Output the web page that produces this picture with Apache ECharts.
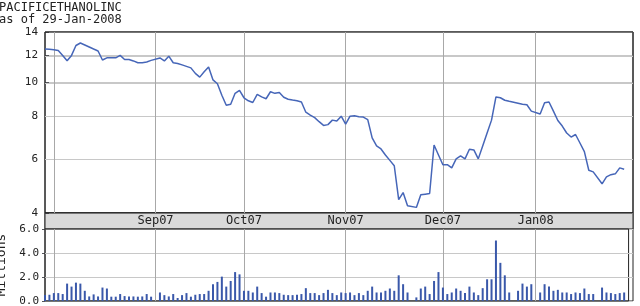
<!DOCTYPE html>
<html><head><meta charset="utf-8">
<script src="https://cdn.jsdelivr.net/npm/echarts@6/dist/echarts.min.js"></script>
<style>html,body{margin:0;padding:0;background:#fff}#c{width:640px;height:306px}</style>
</head><body><div id="c"></div>
<script>
// ---- data (weekday axis Jul 30 2007 .. Jan 31 2008; null = market holiday) ----
const titleText = 'PACIFICETHANOLINC';
const subtitleText = 'as of 29-Jan-2008';
const priceJulAug = [12.50,12.49,12.44,12.38,11.98,11.56,11.98,12.80,13.01,12.84,12.67,12.50,12.34,11.62,11.79,11.79,11.79,11.98,11.66,11.66,11.55,11.41,11.41,11.47,11.59];
const priceSep = [null,11.78,11.55,11.92,11.41,11.36,11.25,11.14,11.03,10.63,10.37,10.74,11.10,10.18,9.92,9.19,8.60,8.66,9.31,9.50];
const priceOct = [9.04,8.86,8.76,9.25,9.09,8.98,9.41,9.31,9.36,9.07,8.95,8.90,8.86,8.79,8.21,8.05,7.92,7.71,7.52,7.56,7.79,7.74,8.00];
const priceNov = [7.59,8.00,8.02,7.97,7.95,7.82,6.92,6.56,6.43,6.18,5.96,5.75,4.59,4.81,4.41,null,4.36,4.74,4.76,4.78,6.60,6.18];
const priceDec = [5.79,5.79,5.67,6.02,6.14,6.02,6.42,6.39,6.02,6.56,7.15,7.79,9.09,9.04,8.89,8.83,null,8.72,8.66,8.63,8.27];
const priceJan = [null,8.11,8.74,8.79,8.27,7.77,7.49,7.15,6.96,7.08,6.69,6.32,5.58,5.52,null,5.10,5.34,5.42,5.45,5.67,5.62];

const volJulAug = [0.50,0.52,0.66,0.66,0.58,1.45,1.20,1.53,1.45,0.85,0.38,0.55,0.38,1.12,1.04,0.36,0.36,0.58,0.41,0.38,0.38,0.36,0.38,0.58,0.36];
const volSep = [null,0.71,0.49,0.38,0.58,0.25,0.49,0.66,0.36,0.52,0.58,0.58,0.85,1.40,1.59,2.03,1.20,1.67,2.41,2.22];
const volOct = [0.85,0.85,0.71,1.20,0.66,0.36,0.71,0.71,0.66,0.52,0.49,0.49,0.52,0.58,1.07,0.66,0.66,0.49,0.66,0.93,0.66,0.49,0.71];
const volNov = [0.66,0.71,0.49,0.66,0.49,0.85,1.20,0.71,0.71,0.85,1.04,0.85,2.14,1.40,0.71,null,0.30,1.04,1.20,0.58,1.67,2.41];
const volDec = [1.12,0.58,0.71,1.04,0.85,0.66,1.20,0.71,0.49,1.07,1.81,1.81,5.04,3.18,2.14,0.71,null,0.85,1.45,1.20,1.40];
const volJan = [null,0.71,1.40,1.20,0.85,0.93,0.71,0.71,0.58,0.71,0.66,1.04,0.58,0.58,null,1.12,0.71,0.66,0.58,0.66,0.71];

const monthGridDates = ['2007-08-01','2007-09-03','2007-10-01','2007-11-01','2007-12-03','2008-01-01'];
const monthLabelDates = ['2007-09-03','2007-10-01','2007-11-01','2007-12-03','2008-01-01'];
const monthLabels = ['Sep07','Oct07','Nov07','Dec07','Jan08'];
const priceTickValues = [4.2,6,8,10,12,14];
const priceTickLabels = ['4','6','8','10','12','14'];
const priceGridValues = [6,8,10,12];
const volTickLabels = ['0.0','2.0','4.0','6.0'];
const volGridValues = [2,4];

// ---- categories: weekdays ----
const dates = [];
for (let t = Date.UTC(2007,6,30); t <= Date.UTC(2008,0,31); t += 86400000) {
  const d = new Date(t), w = d.getUTCDay();
  if (w > 0 && w < 6) dates.push(d.toISOString().slice(0,10));
}
const prices = [].concat(priceJulAug, priceSep, priceOct, priceNov, priceDec, priceJan);
const volumes = [].concat(volJulAug, volSep, volOct, volNov, volDec, volJan);

const gridIdx = monthGridDates.map(s => dates.indexOf(s));
const labelIdx = monthLabelDates.map(s => dates.indexOf(s));
const isGrid = (i) => gridIdx.indexOf(i) >= 0;
const isLabel = (i) => labelIdx.indexOf(i) >= 0;

const FONT = 'DejaVu Sans Mono';
const GRIDV = '#a8a8a8', GRIDH = '#c8c8c8', FRAME = '#222';
const PMIN = Math.log(4.2), PMAX = Math.log(14);
const logTicks = priceTickValues.map(v => Math.log(v));
const nearestTick = (v) => {
  let k = 0, best = 1e9;
  logTicks.forEach((t, i) => { if (Math.abs(t - v) < best) { best = Math.abs(t - v); k = i; } });
  return k;
};
const first = dates[0], last = dates[dates.length - 1];
const vLines = monthGridDates.map(d => ({xAxis: d, lineStyle: {color: GRIDV}}));

const gridBase = {left: 45, right: 7, show: true, borderColor: FRAME, borderWidth: 1, containLabel: false, outerBoundsMode: 'none'};

const chart = echarts.init(document.getElementById('c'));
chart.setOption({
  animation: false,
  color: ['#4666b8', '#3a58aa', '#999'],
  textStyle: {fontFamily: FONT},
  title: {text: titleText + '\n' + subtitleText, left: -1, top: 2, padding: 0,
          textStyle: {fontSize: 12, fontWeight: 'normal', color: '#222', lineHeight: 12}},
  grid: [
    Object.assign({top: 32, height: 181}, gridBase),
    Object.assign({top: 229, height: 72}, gridBase),
    Object.assign({top: 213, height: 16, backgroundColor: '#dadada'}, gridBase)
  ],
  xAxis: [
    {gridIndex: 0, type: 'category', data: dates, boundaryGap: false,
     axisLine: {show: false}, axisLabel: {show: false},
     axisTick: {show: true, inside: true, length: 4, interval: isGrid},
     splitLine: {show: true, interval: isGrid, lineStyle: {color: GRIDV}}},
    {gridIndex: 1, type: 'category', data: dates, boundaryGap: false,
     axisLine: {show: false}, axisLabel: {show: false}, axisTick: {show: false},
     splitLine: {show: true, interval: isGrid, lineStyle: {color: GRIDV}}},
    {gridIndex: 2, type: 'category', data: dates, boundaryGap: false,
     axisLine: {show: false}, axisTick: {show: false}, splitLine: {show: false},
     axisLabel: {show: true, inside: true, margin: 2, interval: isLabel, fontSize: 12, color: '#222',
       formatter: (v) => monthLabels[monthLabelDates.indexOf(v)] || ''}}
  ],
  yAxis: [
    {gridIndex: 0, type: 'value', min: PMIN, max: PMAX,
     axisLine: {show: false},
     axisTick: {show: true, inside: true, length: 4, customValues: logTicks},
     axisLabel: {customValues: logTicks, margin: 7, fontSize: 11, color: '#222',
       formatter: (v) => priceTickLabels[nearestTick(v)]},
     splitLine: {show: true, lineStyle: {color: GRIDH}}},
    {gridIndex: 1, type: 'value', min: 0, max: 6, interval: 2,
     name: 'Millions', nameLocation: 'middle', nameRotate: 90, nameGap: 31,
     nameTextStyle: {fontSize: 13, color: '#222'},
     axisLine: {show: false},
     axisTick: {show: true, inside: false, length: 3},
     axisLabel: {margin: 6, fontSize: 11, color: '#222',
       formatter: (v) => volTickLabels[Math.round(v / 2)]},
     splitLine: {show: true, lineStyle: {color: GRIDH}}},
    {gridIndex: 2, type: 'value', min: 0, max: 1, show: false}
  ],
  series: [
    {type: 'line', xAxisIndex: 0, yAxisIndex: 0, data: prices.map(v => v == null ? null : Math.log(v)),
     connectNulls: true, showSymbol: false, lineStyle: {width: 1.5},
     markLine: {silent: true, z: 1, symbol: 'none', label: {show: false},
       lineStyle: {type: 'solid', width: 1, color: GRIDH},
       data: priceGridValues.map(v => ({yAxis: Math.log(v)})).concat(vLines)},
     markArea: {silent: true, z: 1, label: {show: false},
       itemStyle: {color: 'rgba(0,0,0,0)', borderColor: FRAME, borderWidth: 1},
       data: [[{xAxis: first, yAxis: PMIN}, {xAxis: last, yAxis: PMAX}]]}},
    {type: 'bar', xAxisIndex: 1, yAxisIndex: 1, data: volumes, barWidth: 2,
     markLine: {silent: true, z: 1, symbol: 'none', label: {show: false},
       lineStyle: {type: 'solid', width: 1, color: GRIDH},
       data: volGridValues.map(v => ({yAxis: v})).concat(vLines)},
     markArea: {silent: true, z: 1, label: {show: false},
       itemStyle: {color: 'rgba(0,0,0,0)', borderColor: FRAME, borderWidth: 1},
       data: [[{xAxis: first, yAxis: 0}, {xAxis: last, yAxis: 6}]]}},
    {type: 'line', xAxisIndex: 2, yAxisIndex: 2, data: [], showSymbol: false,
     markArea: {silent: true, z: -1, label: {show: false},
       itemStyle: {color: '#dadada', borderColor: FRAME, borderWidth: 1},
       data: [[{xAxis: first, yAxis: 0}, {xAxis: last, yAxis: 1}]]}}
  ]
});
</script></body></html>
